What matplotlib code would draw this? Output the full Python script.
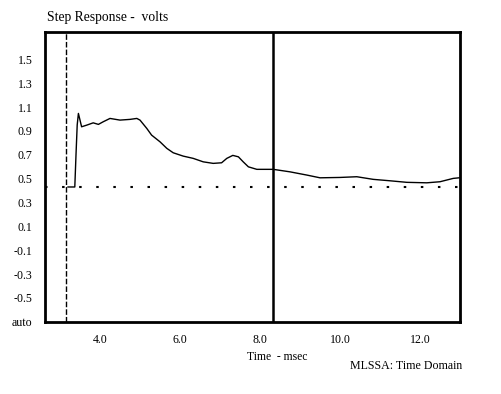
import matplotlib
matplotlib.use("Agg")
import matplotlib.pyplot as plt

# Data
time_ms = [3.20, 3.37, 3.40, 3.43, 3.46, 3.54, 3.67, 3.83, 3.96, 4.08, 4.25, 4.50, 4.75, 4.92,
           5.00, 5.17, 5.29, 5.50, 5.67, 5.83, 6.08, 6.33, 6.58, 6.83, 7.04, 7.17, 7.32,
           7.46, 7.58, 7.71, 7.92, 8.33, 8.75, 9.17, 9.50, 10.00, 10.42, 10.83, 11.25,
           11.67, 12.17, 12.50, 12.83, 12.98]
volts = [0.43, 0.43, 0.70, 0.95, 1.047, 0.935, 0.949, 0.968, 0.955, 0.977, 1.005, 0.991, 0.997, 1.005,
         0.991, 0.921, 0.865, 0.809, 0.754, 0.717, 0.689, 0.670, 0.641, 0.628, 0.633, 0.670, 0.695,
         0.683, 0.641, 0.599, 0.578, 0.578, 0.557, 0.530, 0.507, 0.510, 0.516, 0.494, 0.482,
         0.469, 0.465, 0.474, 0.502, 0.507]

baseline_level = 0.433
start_cursor = 3.14
cursor_time = 8.33

y_ticks = [1.5, 1.3, 1.1, 0.9, 0.7, 0.5, 0.3, 0.1, -0.1, -0.3, -0.5, -0.7]
y_tick_labels = ["1.5", "1.3", "1.1", "0.9", "0.7", "0.5", "0.3", "0.1", "-0.1", "-0.3", "-0.5", "auto"]
x_ticks = [4.0, 6.0, 8.0, 10.0, 12.0]
x_tick_labels = ["4.0", "6.0", "8.0", "10.0", "12.0"]

plt.rcParams['font.family'] = ['Liberation Serif', 'DejaVu Serif']

fig = plt.figure(figsize=(5.01, 3.94), dpi=100)
ax = fig.add_axes([45/501, 1 - 321.7/394, (460 - 45)/501, (321.7 - 32)/394])

ax.set_xlim(2.625, 13.0)
ax.set_ylim(-0.7, 1.73)

ax.plot(time_ms, volts, color='black', lw=1.0)
ax.axhline(baseline_level, color='black', lw=1.5, linestyle=(0, (1.2, 7)))
ax.axvline(start_cursor, color='black', lw=1.0, linestyle=(0, (4, 1.5)))
ax.axvline(cursor_time, color='black', lw=1.8)

for s in ax.spines.values():
    s.set_linewidth(2.0)
    s.set_color('black')

ax.set_yticks(y_ticks)
ax.set_yticklabels(y_tick_labels)
ax.set_xticks(x_ticks)
ax.set_xticklabels(x_tick_labels)
ax.tick_params(axis='y', length=0, pad=9, labelsize=8.6)
ax.tick_params(axis='x', length=0, pad=9, labelsize=8.6)

fig.text(47/501, 1 - 17/394, "Step Response -  volts", fontsize=9.8, ha='left', va='center')
fig.text(277/501, 1 - 356.7/394, "Time  - msec", fontsize=8.4, ha='center', va='center')
fig.text(462/501, 1 - 365.7/394, "MLSSA: Time Domain", fontsize=8.6, ha='right', va='center')

fig.savefig("out.png", dpi=100)
